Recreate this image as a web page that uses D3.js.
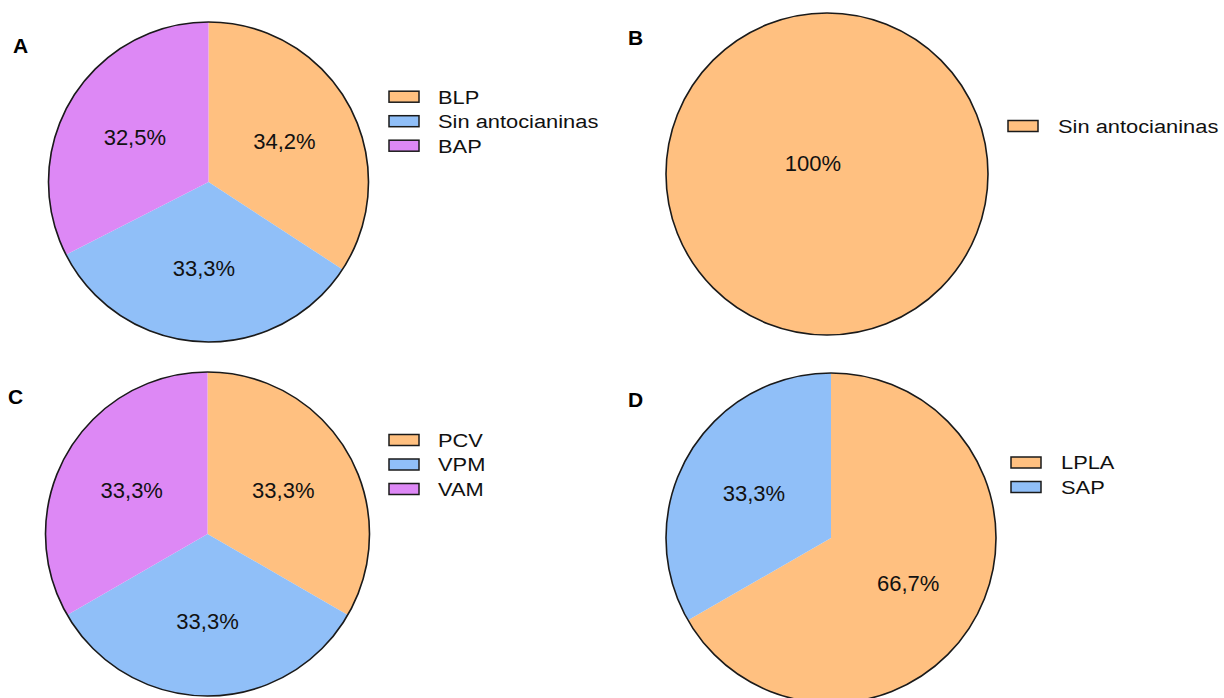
<!DOCTYPE html>
<html>
<head>
<meta charset="utf-8">
<script src="https://cdn.jsdelivr.net/npm/d3@7"></script>
<style>
  html, body { margin: 0; padding: 0; background: #fff; }
  svg { display: block; font-family: "Liberation Sans", Arial, sans-serif; }
</style>
</head>
<body>
<svg id="chart" width="1224" height="698"></svg>
<script>
// Category shares per panel (percent)
const catsA = ["BLP", "Sin antocianinas", "BAP"];
const valsA = [34.2, 33.3, 32.5];

const catsB = ["Sin antocianinas"];
const valsB = [100];

const catsC = ["PCV", "VPM", "VAM"];
const valsC = [33.3, 33.3, 33.3];

const catsD = ["LPLA", "SAP"];
const valsD = [66.7, 33.3];

const panelLetters = ["A", "B", "C", "D"];

// Slice fills, in category order
const palette = ["#FFC080", "#90BFF8", "#DD88F5"];

// Layout of the four panels
const panels = [
  { letter: panelLetters[0], cats: catsA, vals: valsA, cx: 208.5, cy: 182, r: 160,
    lx: 13, ly: 53, legX: 389, legY: 96.7, textX: 438 },
  { letter: panelLetters[1], cats: catsB, vals: valsB, cx: 827, cy: 174, r: 161,
    lx: 628, ly: 45, legX: 1008, legY: 126, textX: 1058 },
  { letter: panelLetters[2], cats: catsC, vals: valsC, cx: 207.5, cy: 534, r: 162,
    lx: 8, ly: 404, legX: 389, legY: 440, textX: 438 },
  { letter: panelLetters[3], cats: catsD, vals: valsD, cx: 831, cy: 538, r: 165,
    lx: 628, ly: 407, legX: 1011, legY: 462.5, textX: 1061 }
];

const svg = d3.select("#chart");

const fmt = v => (Number.isInteger(v) ? String(v) : v.toFixed(1).replace(".", ",")) + "%";

const pie = d3.pie().sort(null).value(d => d);
const color = d3.scaleOrdinal().range(palette);

panels.forEach(p => {
  color.domain(d3.range(p.cats.length));
  const g = svg.append("g").attr("transform", `translate(${p.cx},${p.cy})`);
  const arcs = pie(p.vals);
  const arc = d3.arc().innerRadius(0).outerRadius(p.r);
  const labelArc = d3.arc().innerRadius(p.r * 1.08).outerRadius(0);

  g.selectAll("path.slice")
    .data(arcs)
    .join("path")
    .attr("class", "slice")
    .attr("d", arc)
    .attr("fill", (d, i) => color(i));

  // outer rim
  g.append("circle")
    .attr("r", p.r)
    .attr("fill", "none")
    .attr("stroke", "#1a1a1a")
    .attr("stroke-width", 1.6);

  // percentage labels
  g.selectAll("text.pct")
    .data(arcs)
    .join("text")
    .attr("class", "pct")
    .attr("transform", d => {
      const full = (d.endAngle - d.startAngle) >= 2 * Math.PI - 1e-6;
      if (full) return `translate(-14,-11)`;
      const [x, y] = labelArc.centroid(d);
      return `translate(${x},${y})`;
    })
    .attr("dy", "0.36em")
    .attr("text-anchor", "middle")
    .attr("font-size", 22)
    .attr("fill", "#111")
    .text(d => fmt(d.data));

  // panel letter
  svg.append("text")
    .attr("x", p.lx)
    .attr("y", p.ly)
    .attr("font-size", 21)
    .attr("font-weight", "bold")
    .attr("fill", "#000")
    .text(p.letter);

  // legend
  const leg = svg.append("g");
  const rowH = 24.5;
  p.cats.forEach((c, i) => {
    const y = p.legY + i * rowH;
    leg.append("rect")
      .attr("x", p.legX)
      .attr("y", y - 5.5)
      .attr("width", 30)
      .attr("height", 11)
      .attr("fill", color(i))
      .attr("stroke", "#1a1a1a")
      .attr("stroke-width", 1.5);
    leg.append("text")
      .attr("transform", `translate(${p.textX},${y + 6.8}) scale(1.15,1)`)
      .attr("font-size", 19)
      .attr("fill", "#111")
      .text(c);
  });
});
</script>
</body>
</html>
